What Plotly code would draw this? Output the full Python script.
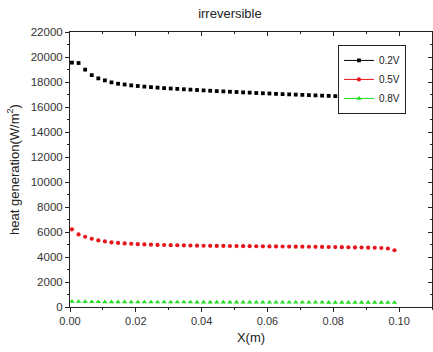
import plotly.graph_objects as go

x_m = [0.0006, 0.0026, 0.0046, 0.0066, 0.0086, 0.0106, 0.0126, 0.0146, 0.0166, 0.0186,
       0.0206, 0.0226, 0.0246, 0.0266, 0.0286, 0.0306, 0.0326, 0.0346, 0.0366, 0.0386,
       0.0406, 0.0426, 0.0446, 0.0466, 0.0486, 0.0506, 0.0526, 0.0546, 0.0566, 0.0586,
       0.0606, 0.0626, 0.0646, 0.0666, 0.0686, 0.0706, 0.0726, 0.0746, 0.0766, 0.0786,
       0.0806, 0.0826, 0.0846, 0.0866, 0.0886, 0.0906, 0.0926, 0.0946, 0.0966, 0.0986]

q_02V = [19550, 19520, 18990, 18550, 18290, 18130, 17970, 17860, 17800, 17730,
         17680, 17630, 17590, 17550, 17510, 17480, 17450, 17420, 17390, 17360,
         17330, 17300, 17270, 17250, 17220, 17200, 17170, 17150, 17120, 17100,
         17080, 17050, 17030, 17010, 16990, 16970, 16950, 16930, 16910, 16890,
         16870, 16850, 16830, 16810, 16790, 16770, 16750, 16730, 16700, 16680]

q_05V = [6215, 5810, 5620, 5460, 5330, 5250, 5170, 5130, 5090, 5060,
         5030, 5010, 4990, 4970, 4960, 4950, 4940, 4930, 4920, 4910,
         4900, 4895, 4890, 4885, 4880, 4875, 4870, 4865, 4860, 4855,
         4850, 4845, 4840, 4835, 4830, 4825, 4820, 4815, 4810, 4800,
         4795, 4790, 4780, 4770, 4760, 4750, 4740, 4720, 4680, 4540]

q_08V = [440, 430, 420, 415, 410, 405, 402, 400, 398, 396,
         395, 394, 393, 392, 391, 390, 389, 388, 387, 386,
         385, 384, 383, 382, 381, 380, 379, 378, 377, 376,
         375, 374, 373, 372, 371, 370, 369, 368, 367, 366,
         365, 364, 363, 362, 361, 360, 359, 358, 357, 356]

series_names = ["0.2V", "0.5V", "0.8V"]
series_vals = [q_02V, q_05V, q_08V]
colors = ["#000000", "#e8141c", "#22dd22"]
symbols = ["square", "circle", "triangle-up"]
sizes = [3.8, 4.2, 4.8]

X_RANGE = [0, 0.11]
Y_RANGE = [0, 22000]

fig = go.Figure()
for name, vals, c, s, sz in zip(series_names, series_vals, colors, symbols, sizes):
    fig.add_trace(go.Scatter(x=x_m, y=vals, mode="markers", showlegend=False,
                             marker=dict(color=c, symbol=s, size=sz, line=dict(width=0))))
for name, c, s, sz in zip(series_names, colors, symbols, sizes):
    fig.add_trace(go.Scatter(x=[None], y=[None], mode="lines+markers", name=name,
                             line=dict(color=c, width=1),
                             marker=dict(color=c, symbol=s, size=sz, line=dict(width=0))))

font = "Liberation Sans, Arial, sans-serif"
axcol = "#333333"
dark = "#222222"

fig.update_layout(
    width=433, height=352,
    margin=dict(l=70, r=1, t=32, b=45),
    paper_bgcolor="white", plot_bgcolor="white",
    font=dict(family=font, size=11, color=axcol),
    title=dict(text="irreversible", x=0.531, xref="container", xanchor="center",
               y=1 - 13 / 352, yref="container", yanchor="middle",
               font=dict(size=13, color=dark)),
    showlegend=True,
    legend=dict(x=0.928, y=0.953, xanchor="right", yanchor="top",
                bordercolor=dark, borderwidth=1, bgcolor="white",
                font=dict(size=10, color=dark), itemwidth=30,
                tracegroupgap=0, itemsizing="trace"),
    xaxis=dict(range=X_RANGE, showgrid=False, zeroline=False, showline=True,
               linecolor=dark, linewidth=1, ticks="outside", ticklen=4,
               tickcolor=dark, dtick=0.02, tick0=0, tickformat=".2f", automargin=False,
               tickfont=dict(size=11),
               minor=dict(ticks="outside", ticklen=2, dtick=0.01, tick0=0, tickcolor=dark),
               title=dict(text="X(m)", standoff=6, font=dict(size=13, color=dark))),
    yaxis=dict(range=Y_RANGE, showgrid=False, zeroline=False, showline=True,
               linecolor=dark, linewidth=1, ticks="outside", ticklen=4,
               tickcolor=dark, dtick=2000, tick0=0, tickformat="d", automargin=False,
               tickfont=dict(size=11.5),
               minor=dict(ticks="outside", ticklen=2, dtick=1000, tick0=0, tickcolor=dark),
               title=dict(text="heat generation(W/m<sup>2</sup>)", standoff=8,
                          font=dict(size=13, color=dark))),
    xaxis2=dict(range=X_RANGE, overlaying="x", side="top", anchor="y", showgrid=False,
                zeroline=False, showline=True, linecolor=dark, linewidth=1,
                ticks="inside", ticklen=4, tickcolor=dark, dtick=0.02, tick0=0,
                showticklabels=False, automargin=False,
                minor=dict(ticks="inside", ticklen=2, dtick=0.01, tick0=0, tickcolor=dark)),
    yaxis2=dict(range=Y_RANGE, overlaying="y", side="right", anchor="x", showgrid=False,
                zeroline=False, showline=True, linecolor=dark, linewidth=1,
                ticks="inside", ticklen=4, tickcolor=dark, dtick=2000, tick0=0,
                showticklabels=False, automargin=False,
                minor=dict(ticks="inside", ticklen=2, dtick=1000, tick0=0, tickcolor=dark)),
)
# attach an empty trace so the mirrored frame axes are drawn
fig.add_trace(go.Scatter(x=[None], y=[None], xaxis="x2", yaxis="y2", showlegend=False,
                         hoverinfo="skip"))

fig.write_html(
    "out.html",
    config={"displayModeBar": False},
    post_script="document.body.style.margin='0';document.body.style.overflow='hidden';",
)
